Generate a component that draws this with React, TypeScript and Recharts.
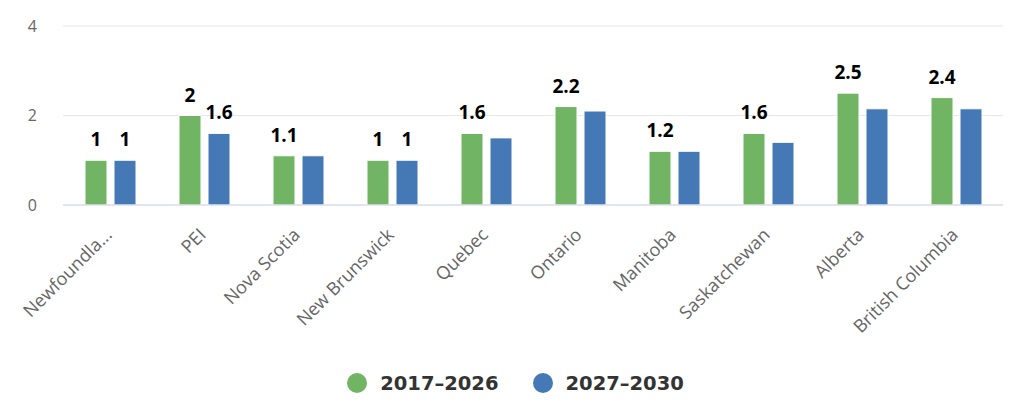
import { Bar, BarChart, CartesianGrid, LabelList, Legend, XAxis, YAxis } from "recharts";

document.body.style.margin = "0";

const provinces = [
  "Newfoundland and Labrador",
  "PEI",
  "Nova Scotia",
  "New Brunswick",
  "Quebec",
  "Ontario",
  "Manitoba",
  "Saskatchewan",
  "Alberta",
  "British Columbia"
];
const early = [1, 2, 1.1, 1, 1.6, 2.2, 1.2, 1.6, 2.5, 2.4];
const late = [1, 1.6, 1.1, 1, 1.5, 2.1, 1.2, 1.4, 2.15, 2.15];
// Highcharts hid the overlapping labels of the second series
const lateLabelShown = [true, true, false, true, false, false, false, false, false, false];
const yTicks = [0, 2, 4];

const seriesInfo = [
  { key: "early", name: "2017–2026", color: "#71b564" },
  { key: "late", name: "2027–2030", color: "#4479b5" }
];

const data = provinces.map((name, i) => ({ name, early: early[i], late: late[i] }));

const AXIS_FONT = "'Open Sans', sans-serif";
const LEGEND_FONT = "'DejaVu Sans', Verdana, sans-serif";

function shortName(name: string) {
  return name.length > 16 ? name.slice(0, 10) + "..." : name;
}

function ProvinceTick({ x, y, payload }: any) {
  const ax = x + 3;
  const ay = y + 23;
  return (
    <text
      x={ax}
      y={ay}
      textAnchor="end"
      fill="#666"
      fontSize={18}
      fontFamily={AXIS_FONT}
      transform={`rotate(-45, ${ax}, ${ay})`}
    >
      {shortName(payload.value)}
    </text>
  );
}

function makeLabel(shown?: boolean[]) {
  return (props: any) => {
    const { x, y, width, value, index } = props;
    if (shown && !shown[index]) return null;
    return (
      <text
        x={x + width / 2}
        y={y - 14}
        textAnchor="middle"
        fill="#000"
        fontSize={19}
        fontWeight="bold"
        fontFamily={AXIS_FONT}
      >
        {value}
      </text>
    );
  };
}

function LegendBox() {
  return (
    <div
      style={{
        height: 40,
        display: "flex",
        justifyContent: "center",
        alignItems: "center",
        gap: 34,
        paddingLeft: 28,
        fontFamily: LEGEND_FONT,
        fontWeight: "bold",
        fontSize: 19.5,
        color: "#333"
      }}
    >
      {seriesInfo.map((s) => (
        <div key={s.key} style={{ display: "flex", alignItems: "center", gap: 13 }}>
          <span style={{ width: 20, height: 20, borderRadius: 10, background: s.color, display: "inline-block" }} />
          <span>{s.name}</span>
        </div>
      ))}
    </div>
  );
}

export default function App() {
  return (
    <div style={{ width: 1024, height: 411, background: "#fff" }}>
      <BarChart
        width={1024}
        height={411}
        data={data}
        margin={{ top: 26, right: 21, bottom: 8, left: 0 }}
        barSize={22}
        barGap={7}
      >
        <CartesianGrid vertical={false} stroke="#e6e6e6" />
        <XAxis
          dataKey="name"
          interval={0}
          height={158}
          tickLine={false}
          axisLine={{ stroke: "#ccd6eb" }}
          tick={<ProvinceTick />}
        />
        <YAxis
          domain={[0, 4]}
          ticks={yTicks}
          width={63}
          axisLine={false}
          tickLine={false}
          tickMargin={20}
          tick={{ fill: "#666", fontSize: 16, fontFamily: AXIS_FONT }}
        />
        <Legend verticalAlign="bottom" content={<LegendBox />} />
        <Bar dataKey="early" name={seriesInfo[0].name} fill={seriesInfo[0].color} stroke="#fff" strokeWidth={1} isAnimationActive={false}>
          <LabelList dataKey="early" content={makeLabel()} />
        </Bar>
        <Bar dataKey="late" name={seriesInfo[1].name} fill={seriesInfo[1].color} stroke="#fff" strokeWidth={1} isAnimationActive={false}>
          <LabelList dataKey="late" content={makeLabel(lateLabelShown)} />
        </Bar>
      </BarChart>
    </div>
  );
}
